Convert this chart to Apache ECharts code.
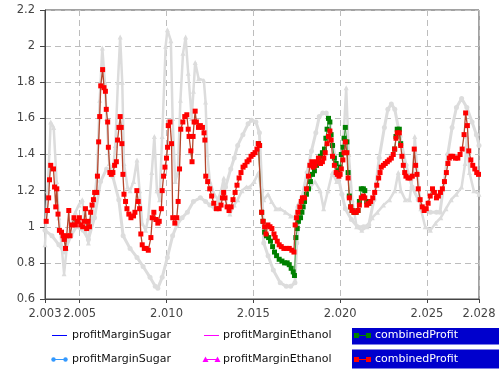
<!DOCTYPE html>
<html><head><meta charset="utf-8">
<script src="https://cdn.jsdelivr.net/npm/echarts@6/dist/echarts.min.js"></script>
<style>html,body{margin:0;padding:0;background:#fff}#c{width:500px;height:371px}</style>
</head><body><div id="c"></div>
<script>
// x tick label positions (years; shown as value/1000)
const xTickValues = [2003, 2005, 2010, 2015, 2020, 2025, 2028];

// combinedProfit (red squares) [year, value]
const redPoints = [
[2003.07,1.03],[2003.14,1.09],[2003.21,1.16],[2003.26,1.26],[2003.33,1.34],[2003.49,1.32],[2003.55,1.22],[2003.62,1.11],[2003.68,1.21],[2003.75,1.07],
[2003.83,0.98],[2003.95,0.97],[2004.04,0.95],[2004.10,0.93],[2004.18,0.88],[2004.25,0.95],[2004.37,1.09],[2004.44,0.95],[2004.56,1.01],[2004.67,1.05],
[2004.75,1.01],[2004.87,1.03],[2004.98,1.05],[2005.06,1.01],[2005.17,1.00],[2005.25,1.03],[2005.33,1.10],[2005.40,0.99],[2005.48,1.03],[2005.56,1.00],
[2005.63,1.08],[2005.71,1.12],[2005.79,1.15],[2005.86,1.19],[2005.98,1.19],[2006.02,1.28],[2006.09,1.47],[2006.15,1.61],[2006.21,1.78],[2006.32,1.87],
[2006.40,1.77],[2006.48,1.75],[2006.53,1.65],[2006.61,1.58],[2006.65,1.44],[2006.74,1.30],[2006.82,1.29],[2006.91,1.30],[2007.01,1.34],[2007.11,1.36],
[2007.18,1.48],[2007.26,1.55],[2007.33,1.61],[2007.39,1.55],[2007.43,1.46],[2007.49,1.29],[2007.55,1.18],[2007.64,1.14],[2007.72,1.10],[2007.83,1.07],
[2007.95,1.05],[2008.10,1.06],[2008.18,1.08],[2008.29,1.20],[2008.37,1.14],[2008.45,1.10],[2008.52,0.96],[2008.60,0.90],[2008.72,0.88],[2008.83,0.88],
[2008.95,0.87],[2009.10,0.94],[2009.18,1.05],[2009.27,1.08],[2009.39,1.04],[2009.50,1.02],[2009.58,1.03],[2009.70,1.10],[2009.75,1.20],[2009.83,1.28],
[2009.91,1.33],[2010.00,1.38],[2010.06,1.44],[2010.10,1.56],[2010.20,1.58],[2010.29,1.46],[2010.36,1.05],[2010.48,1.02],[2010.59,1.05],[2010.67,1.14],
[2010.75,1.32],[2010.82,1.54],[2010.94,1.58],[2011.05,1.61],[2011.17,1.62],[2011.25,1.54],[2011.30,1.50],[2011.40,1.42],[2011.47,1.36],[2011.53,1.50],
[2011.59,1.58],[2011.65,1.64],[2011.72,1.58],[2011.84,1.55],[2011.95,1.56],[2012.07,1.55],[2012.16,1.52],[2012.21,1.48],[2012.26,1.28],[2012.37,1.25],
[2012.49,1.21],[2012.60,1.17],[2012.72,1.13],[2012.87,1.10],[2013.03,1.10],[2013.14,1.12],[2013.22,1.16],[2013.29,1.19],[2013.37,1.16],[2013.49,1.11],
[2013.60,1.09],[2013.72,1.11],[2013.83,1.15],[2013.95,1.19],[2014.06,1.23],[2014.18,1.27],[2014.29,1.30],[2014.41,1.33],[2014.52,1.34],[2014.64,1.36],
[2014.75,1.37],[2014.87,1.39],[2014.98,1.40],[2015.10,1.41],[2015.21,1.43],[2015.29,1.46],[2015.36,1.45],[2015.48,1.08],[2015.56,1.03],[2015.65,1.00],
[2015.73,0.96],[2015.84,1.01],[2015.96,1.00],[2016.07,0.99],[2016.19,0.96],[2016.26,0.94],[2016.38,0.92],[2016.49,0.90],[2016.61,0.89],[2016.76,0.88],
[2016.91,0.88],[2017.07,0.88],[2017.22,0.87],[2017.34,0.86],[2017.41,1.01],[2017.49,1.05],[2017.57,1.08],[2017.68,1.11],[2017.76,1.14],[2017.83,1.16],
[2017.95,1.16],[2018.06,1.21],[2018.18,1.28],[2018.26,1.34],[2018.37,1.36],[2018.45,1.33],[2018.56,1.34],[2018.64,1.36],[2018.75,1.38],[2018.87,1.35],
[2018.98,1.36],[2019.06,1.38],[2019.14,1.41],[2019.25,1.46],[2019.33,1.50],[2019.41,1.53],[2019.48,1.48],[2019.56,1.39],[2019.67,1.34],[2019.77,1.30],
[2019.84,1.29],[2019.93,1.28],[2020.00,1.29],[2020.07,1.32],[2020.16,1.37],[2020.23,1.41],[2020.30,1.47],[2020.39,1.41],[2020.46,1.27],[2020.53,1.16],
[2020.61,1.11],[2020.69,1.09],[2020.80,1.08],[2020.92,1.08],[2021.03,1.09],[2021.11,1.12],[2021.22,1.16],[2021.34,1.17],[2021.42,1.16],[2021.53,1.12],
[2021.65,1.13],[2021.76,1.14],[2021.88,1.16],[2021.99,1.19],[2022.11,1.23],[2022.22,1.27],[2022.30,1.30],[2022.37,1.33],[2022.49,1.34],[2022.60,1.35],
[2022.72,1.36],[2022.83,1.37],[2022.95,1.38],[2023.06,1.40],[2023.14,1.43],[2023.22,1.49],[2023.29,1.52],[2023.41,1.52],[2023.49,1.45],[2023.56,1.39],
[2023.64,1.34],[2023.72,1.30],[2023.79,1.28],[2023.91,1.27],[2024.02,1.27],[2024.16,1.28],[2024.27,1.43],[2024.35,1.34],[2024.43,1.29],[2024.50,1.21],
[2024.61,1.15],[2024.73,1.11],[2024.84,1.09],[2024.96,1.10],[2025.07,1.13],[2025.19,1.17],[2025.32,1.21],[2025.43,1.19],[2025.55,1.16],[2025.66,1.17],
[2025.78,1.19],[2025.89,1.21],[2026.01,1.25],[2026.12,1.30],[2026.21,1.35],[2026.29,1.38],[2026.38,1.39],[2026.49,1.39],[2026.64,1.38],[2026.78,1.38],
[2026.91,1.40],[2027.03,1.43],[2027.14,1.51],[2027.23,1.63],[2027.33,1.56],[2027.41,1.42],[2027.53,1.37],[2027.64,1.34],[2027.76,1.32],[2027.87,1.30],
[2027.97,1.29]
];

// combinedProfit (green squares), visible where it departs from the red one
const greenPoints = [
[2015.29,1.46],[2015.36,1.45],[2015.48,1.08],[2015.56,1.03],[2015.65,0.97],[2015.76,0.95],[2015.88,0.94],[2015.99,0.92],[2016.11,0.89],[2016.22,0.86],
[2016.34,0.84],[2016.49,0.82],[2016.65,0.81],[2016.80,0.80],[2016.95,0.80],[2017.07,0.79],[2017.18,0.77],[2017.30,0.75],[2017.37,0.73],[2017.45,0.94],
[2017.53,0.99],[2017.60,1.03],[2017.72,1.05],[2017.80,1.08],[2017.87,1.11],[2017.95,1.14],[2018.06,1.18],[2018.18,1.21],[2018.29,1.25],[2018.41,1.29],
[2018.52,1.31],[2018.64,1.34],[2018.75,1.36],[2018.87,1.39],[2018.98,1.41],[2019.10,1.43],[2019.18,1.49],[2019.25,1.54],[2019.33,1.60],[2019.41,1.58],
[2019.48,1.51],[2019.56,1.45],[2019.67,1.38],[2019.77,1.35],[2019.84,1.31],[2019.93,1.30],[2020.00,1.33],[2020.07,1.40],[2020.16,1.44],[2020.23,1.49],
[2020.30,1.55],[2020.39,1.47],[2020.46,1.30],[2020.53,1.17],[2020.61,1.11],[2020.69,1.09],[2020.80,1.08],[2020.92,1.08],[2021.03,1.09],[2021.11,1.14],
[2021.22,1.21],[2021.34,1.21],[2021.42,1.20],[2021.53,1.14],[2021.65,1.13],
[2022.50,'-'],
[2023.14,1.43],[2023.22,1.50],[2023.29,1.54],[2023.41,1.54],[2023.49,1.46]
];

// profitMarginSugar (gray circles)
const sugarPoints = [
[2003.0,0.98],[2003.4,0.95],[2003.8,0.90],[2004.1,0.86],[2004.5,0.95],[2004.8,1.00],[2005.2,0.98],[2005.5,0.93],[2005.85,1.05],[2006.2,1.25],
[2006.55,1.32],[2006.9,1.28],[2007.25,1.15],[2007.5,0.95],[2007.9,0.88],[2008.3,0.83],[2008.65,0.78],[2009.05,0.72],[2009.35,0.67],[2009.5,0.66],
[2009.75,0.72],[2010.05,0.83],[2010.35,0.95],[2010.6,1.01],[2010.9,1.05],[2011.2,1.08],[2011.55,1.14],[2011.95,1.16],[2012.25,1.14],[2012.5,1.12],
[2012.8,1.10],[2013.1,1.15],[2013.4,1.22],[2013.7,1.32],[2013.9,1.38],[2014.1,1.45],[2014.4,1.51],[2014.7,1.57],[2014.9,1.59],[2015.15,1.58],
[2015.35,1.52],[2015.5,1.20],[2015.6,0.91],[2015.85,0.84],[2016.15,0.76],[2016.55,0.69],[2016.9,0.67],[2017.15,0.67],[2017.4,0.69],[2017.5,0.91],
[2017.65,1.05],[2017.8,1.16],[2018.1,1.30],[2018.35,1.42],[2018.6,1.52],[2018.8,1.61],[2019.0,1.63],[2019.2,1.63],[2019.4,1.57],[2019.6,1.45],
[2019.85,1.30],[2020.1,1.18],[2020.3,1.10],[2020.65,1.04],[2021.0,1.00],[2021.35,1.00],[2021.65,1.01],[2021.95,1.15],[2022.25,1.38],[2022.55,1.55],
[2022.75,1.65],[2022.95,1.68],[2023.15,1.65],[2023.45,1.50],[2023.8,1.34],[2024.15,1.22],[2024.5,1.15],[2024.85,1.10],[2025.2,1.08],[2025.55,1.08],
[2025.75,1.08],[2026.0,1.25],[2026.2,1.40],[2026.45,1.55],[2026.7,1.66],[2027.0,1.71],[2027.3,1.66],[2027.6,1.58],[2027.85,1.51],[2028.0,1.45]
];

// profitMarginEthanol (gray triangles)
const ethanolPoints = [
[2003.0,0.90],[2003.15,1.20],[2003.33,1.58],[2003.5,1.55],[2003.67,1.25],[2003.8,1.05],[2003.95,0.90],[2004.1,0.74],[2004.25,0.88],[2004.5,1.02],
[2004.75,1.08],[2004.95,1.12],[2005.15,1.15],[2005.3,1.00],[2005.5,0.91],[2005.65,1.05],[2005.85,1.15],[2006.0,1.30],[2006.15,1.70],[2006.3,1.99],
[2006.45,1.80],[2006.55,1.60],[2006.7,1.35],[2006.9,1.30],[2007.05,1.45],[2007.2,1.80],[2007.33,2.05],[2007.45,1.80],[2007.55,1.35],[2007.75,1.22],
[2007.9,1.20],[2008.1,1.25],[2008.3,1.37],[2008.45,1.20],[2008.6,1.02],[2008.8,0.98],[2008.95,1.05],[2009.15,1.30],[2009.3,1.50],[2009.45,1.20],
[2009.6,1.15],[2009.75,1.50],[2009.95,2.00],[2010.05,2.09],[2010.25,2.03],[2010.35,1.60],[2010.5,1.25],[2010.65,1.30],[2010.8,1.70],[2010.95,1.96],
[2011.1,2.05],[2011.25,1.85],[2011.45,1.60],[2011.55,1.75],[2011.65,1.91],[2011.85,1.82],[2012.15,1.81],[2012.25,1.69],[2012.35,1.40],[2012.5,1.25],
[2012.75,1.18],[2012.95,1.15],[2013.15,1.20],[2013.3,1.27],[2013.45,1.12],[2013.65,1.07],[2013.9,1.12],[2014.1,1.15],[2014.35,1.20],[2014.6,1.22],
[2014.8,1.22],[2015.05,1.25],[2015.3,1.30],[2015.45,1.20],[2015.6,1.15],[2015.85,1.18],[2016.05,1.14],[2016.3,1.10],[2016.55,1.10],[2016.85,1.08],
[2017.15,1.06],[2017.4,1.05],[2017.55,1.12],[2017.75,1.15],[2018.0,1.18],[2018.3,1.22],[2018.55,1.25],[2018.85,1.20],[2019.05,1.10],[2019.3,1.20],
[2019.55,1.30],[2019.8,1.25],[2020.0,1.30],[2020.2,1.50],[2020.35,1.77],[2020.5,1.40],[2020.7,1.15],[2020.95,1.00],[2021.25,0.98],[2021.55,1.00],
[2021.85,1.05],[2022.15,1.08],[2022.5,1.12],[2022.85,1.15],[2023.15,1.20],[2023.35,1.30],[2023.5,1.20],[2023.75,1.15],[2024.0,1.15],[2024.2,1.30],
[2024.3,1.50],[2024.45,1.30],[2024.65,1.10],[2024.9,1.00],[2025.2,0.98],[2025.5,1.02],[2025.8,1.05],[2026.1,1.10],[2026.4,1.15],[2026.7,1.18],
[2027.0,1.22],[2027.2,1.35],[2027.3,1.50],[2027.45,1.30],[2027.7,1.20],[2028.0,1.18]
];

const FONT = '"DejaVu Sans", Verdana, sans-serif';
const gray = '#dcdcdc';
const chart = echarts.init(document.getElementById('c'), null, {renderer: 'canvas'});

function sq(x, y, c) { return {type: 'rect', shape: {x: x - 2.5, y: y - 2.5, width: 5, height: 5}, style: {fill: c}}; }
function legendGraphics() {
  const g = [];
  const r1 = 335.5, r2 = 359.5;
  // row 1
  g.push({type: 'rect', shape: {x: 52, y: r1 - 0.5, width: 15, height: 1}, style: {fill: '#0000ff'}});
  g.push({type: 'text', x: 72, y: r1, style: {text: 'profitMarginSugar', font: '11px ' + FONT, fill: '#111', verticalAlign: 'middle'}});
  g.push({type: 'rect', shape: {x: 204, y: r1 - 0.5, width: 15, height: 1}, style: {fill: '#ff00ff'}});
  g.push({type: 'text', x: 223, y: r1, style: {text: 'profitMarginEthanol', font: '11px ' + FONT, fill: '#111', verticalAlign: 'middle'}});
  g.push({type: 'rect', shape: {x: 352, y: 328, width: 147, height: 16.5}, style: {fill: '#0000cd'}});
  g.push({type: 'rect', shape: {x: 355, y: r1 - 0.5, width: 15, height: 1}, style: {fill: '#008000'}});
  g.push(sq(356.5, r1, '#008000')); g.push(sq(368.5, r1, '#008000'));
  g.push({type: 'text', x: 375, y: r1, style: {text: 'combinedProfit', font: '11px ' + FONT, fill: '#ffffff', verticalAlign: 'middle'}});
  // row 2
  g.push({type: 'rect', shape: {x: 52, y: r2 - 0.5, width: 15, height: 1}, style: {fill: '#3399ff'}});
  g.push({type: 'circle', shape: {cx: 53.5, cy: r2, r: 2.2}, style: {fill: '#3399ff'}});
  g.push({type: 'circle', shape: {cx: 65.5, cy: r2, r: 2.2}, style: {fill: '#3399ff'}});
  g.push({type: 'text', x: 72, y: r2, style: {text: 'profitMarginSugar', font: '11px ' + FONT, fill: '#111', verticalAlign: 'middle'}});
  g.push({type: 'rect', shape: {x: 204, y: r2 - 0.5, width: 15, height: 1}, style: {fill: '#ff00ff'}});
  g.push({type: 'polygon', shape: {points: [[205.5, r2 - 3], [208.5, r2 + 2.5], [202.5, r2 + 2.5]]}, style: {fill: '#ff00ff'}});
  g.push({type: 'polygon', shape: {points: [[217.5, r2 - 3], [220.5, r2 + 2.5], [214.5, r2 + 2.5]]}, style: {fill: '#ff00ff'}});
  g.push({type: 'text', x: 223, y: r2, style: {text: 'profitMarginEthanol', font: '11px ' + FONT, fill: '#111', verticalAlign: 'middle'}});
  g.push({type: 'rect', shape: {x: 352, y: 349.5, width: 147, height: 19}, style: {fill: '#0000cd'}});
  g.push({type: 'rect', shape: {x: 355, y: r2 - 0.5, width: 15, height: 1}, style: {fill: '#ff0000'}});
  g.push(sq(356.5, r2, '#ff0000')); g.push(sq(368.5, r2, '#ff0000'));
  g.push({type: 'text', x: 375, y: r2, style: {text: 'combinedProfit', font: '11px ' + FONT, fill: '#ffffff', verticalAlign: 'middle'}});
  return g;
}

chart.setOption({
  animation: false,
  backgroundColor: '#fff',
  grid: {left: 45, right: 21, top: 10, bottom: 72, show: true, borderColor: '#444', borderWidth: 1, backgroundColor: 'transparent'},
  xAxis: {
    type: 'value', min: 2003, max: 2028,
    axisLine: {show: true, lineStyle: {color: '#444'}},
    axisTick: {show: true, length: 4, customValues: xTickValues, lineStyle: {color: '#444'}},
    axisLabel: {customValues: xTickValues, color: '#444', fontFamily: FONT, fontSize: 11.5, margin: 9,
      formatter: v => (v / 1000).toFixed(3)},
    splitLine: {show: true, lineStyle: {color: '#bdbdbd', type: [6, 4]}}
  },
  yAxis: {
    type: 'value', min: 0.6, max: 2.2, interval: 0.2,
    axisLine: {show: true, lineStyle: {color: '#444'}},
    axisTick: {show: true, length: 5, lineStyle: {color: '#444'}},
    axisLabel: {color: '#444', fontFamily: FONT, fontSize: 11.5, margin: 10,
      formatter: v => String(Math.round(v * 10) / 10)},
    splitLine: {show: true, lineStyle: {color: '#bdbdbd', type: [6, 4]}}
  },
  graphic: legendGraphics(),
  series: [
    {name: 'profitMarginEthanol', type: 'line', data: ethanolPoints, symbol: 'triangle', symbolSize: 5, showSymbol: true,
      lineStyle: {color: gray, width: 2.5}, itemStyle: {color: gray}, z: 1},
    {name: 'profitMarginSugar', type: 'line', data: sugarPoints, symbol: 'circle', symbolSize: 5, showSymbol: true,
      lineStyle: {color: gray, width: 3}, itemStyle: {color: gray}, z: 1},
    {name: 'combinedProfit', type: 'line', data: greenPoints, symbol: 'rect', symbolSize: 5, showSymbol: true, connectNulls: false,
      lineStyle: {color: '#3a9a3a', width: 1}, itemStyle: {color: '#008000'}, z: 3},
    {name: 'combinedProfit', type: 'line', data: redPoints, symbol: 'rect', symbolSize: 5, showSymbol: true,
      lineStyle: {color: '#b5452b', width: 1.3}, itemStyle: {color: '#ff0000'}, z: 4}
  ]
});
</script></body></html>
